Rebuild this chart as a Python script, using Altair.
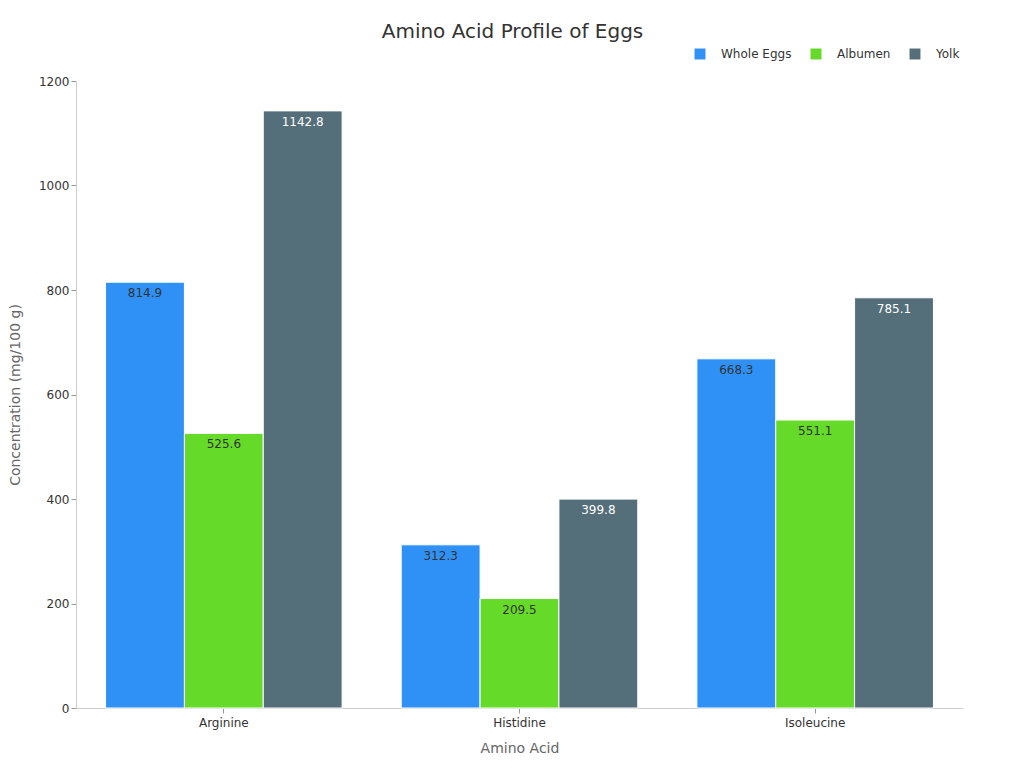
import pandas as pd
import altair as alt

# --- Données ---
amino_acids = ["Arginine", "Histidine", "Isoleucine"]
series = ["Whole Eggs", "Albumen", "Yolk"]
whole_eggs = [814.9, 312.3, 668.3]
albumen = [525.6, 209.5, 551.1]
yolk = [1142.8, 399.8, 785.1]
colors = ["#2F91F6", "#66DA28", "#546E7A"]

rows = []
for name, values in zip(series, [whole_eggs, albumen, yolk]):
    for aa, v in zip(amino_acids, values):
        rows.append({"acid": aa, "source": name, "value": v})
df = pd.DataFrame(rows)

font = "DejaVu Sans"

base = alt.Chart(df).encode(
    x=alt.X(
        "acid:N",
        sort=amino_acids,
        title="Amino Acid",
        scale=alt.Scale(paddingInner=0.2, paddingOuter=0.1),
        axis=alt.Axis(labelAngle=0, labelColor="#333", labelFontSize=12,
                      labelPadding=4, titleColor="#666", titleFontSize=14,
                      titleFontWeight="normal", titlePadding=13,
                      domainColor="#ccc", tickColor="#999"),
    ),
    xOffset=alt.XOffset("source:N", sort=series),
    y=alt.Y(
        "value:Q",
        title="Concentration (mg/100 g)",
        scale=alt.Scale(domain=[0, 1200]),
        axis=alt.Axis(grid=False, tickCount=6, format="d", labelColor="#333",
                      labelFontSize=12, titleColor="#666", titleFontSize=14,
                      titleFontWeight="normal", titlePadding=16,
                      domainColor="#ccc", tickColor="#999"),
    ),
)

bars = base.mark_bar(stroke="white", strokeWidth=1).encode(
    color=alt.Color(
        "source:N",
        sort=series,
        scale=alt.Scale(domain=series, range=colors),
        legend=alt.Legend(title=None, orient="none", direction="horizontal",
                          legendX=618, legendY=-33, symbolType="square",
                          symbolSize=120, labelFontSize=12, labelColor="#333",
                          labelOffset=15, columnPadding=18, symbolStrokeWidth=0),
    )
)

labels = base.mark_text(baseline="top", dy=6, fontSize=12, font=font).encode(
    text=alt.Text("value:Q", format=".1f"),
    color=alt.condition(alt.datum.source == "Yolk", alt.value("white"), alt.value("#333")),
)

chart = (
    (bars + labels)
    .properties(
        width=887,
        height=627,
        padding={"top": 14, "left": 0, "right": 5, "bottom": 5},
        title=alt.TitleParams("Amino Acid Profile of Eggs", fontSize=20,
                              fontWeight="normal", color="#333", offset=6, dx=-7),
    )
    .configure(font=font)
    .configure_view(stroke=None)
)

chart.save("out.html", embed_options={"renderer": "svg", "actions": False})
